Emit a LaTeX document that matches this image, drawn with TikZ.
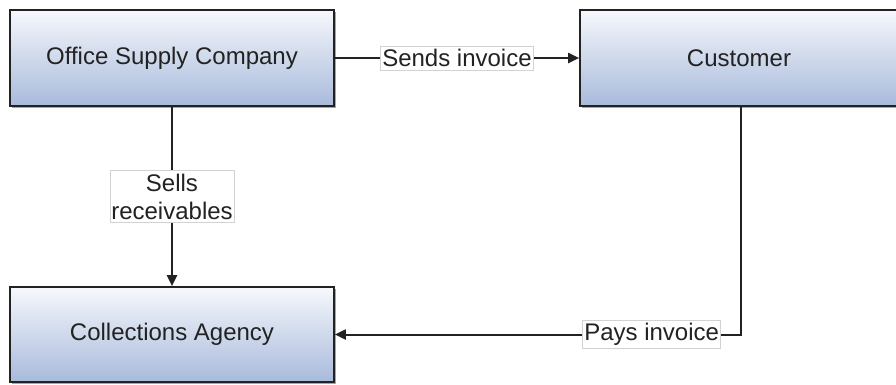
\documentclass[tikz,border=0pt]{standalone}
\usepackage{fontspec}
\setmainfont{Liberation Sans}
\usetikzlibrary{shadows,arrows.meta}
\definecolor{boxtop}{HTML}{F6F8FC}
\definecolor{boxbot}{HTML}{A8BADB}
\definecolor{ink}{HTML}{222222}
\tikzset{
  entity/.style={draw=ink, line width=1.7pt, top color=boxtop, bottom color=boxbot,
    drop shadow={shadow xshift=1.5pt, shadow yshift=-1.5pt, opacity=0.35, fill=black},
    text=ink, font=\fontsize{24}{28}\selectfont, inner sep=0pt},
  flow/.style={draw=ink, line width=2pt, -{Triangle[length=11pt,width=10pt]}},
  lbl/.style={fill=white, draw=gray!35, line width=0.6pt, inner xsep=1.5pt, inner ysep=3pt,
    text=ink, font=\fontsize{24}{28}\selectfont, align=center}
}
\begin{document}
\begin{tikzpicture}[x=1pt,y=-1pt]
\useasboundingbox (0,0) rectangle (896,384);
\node[entity, minimum width=324pt, minimum height=96pt] (osc) at (172,58) {Office Supply Company};
\node[entity, minimum width=318pt, minimum height=96pt] (cust) at (739,58) {Customer};
\node[entity, minimum width=324pt, minimum height=95pt] (coll) at (172,334.5) {Collections Agency};
\draw[flow] (osc.east) -- node[lbl] (l1) {Sends invoice} (cust.west);
\draw[flow] (osc.south) -- node[lbl] (l2) {Sells\\receivables} (coll.north);
\coordinate (corner) at ([xshift=2pt]cust.south |- coll.east);
\draw[flow] ([xshift=2pt]cust.south) -- (corner) -- node[lbl, pos=0.22] (l3) {Pays invoice} (coll.east);
\end{tikzpicture}
\end{document}
